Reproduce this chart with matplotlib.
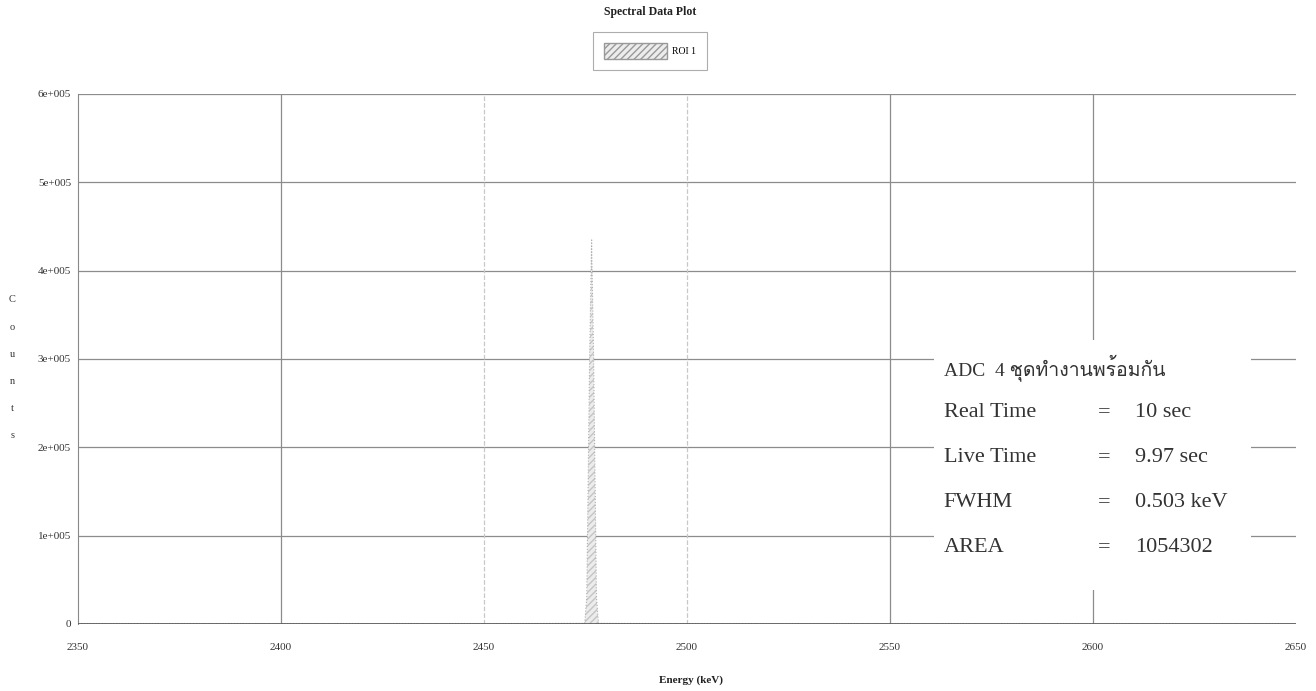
import matplotlib
matplotlib.use("Agg")
import matplotlib.pyplot as plt
from matplotlib import font_manager, ft2font
from matplotlib.patches import Patch, Rectangle

# spectrum (keV, counts)
energy = [2350, 2400, 2450, 2474.8, 2475.3, 2475.7, 2476.0, 2476.3, 2476.5,
          2476.7, 2477.0, 2477.3, 2477.7, 2478.2, 2500, 2550, 2600, 2650]
counts = [400, 350, 300, 800, 30000, 180000, 300000, 380000, 436000,
          380000, 300000, 180000, 30000, 800, 250, 200, 150, 100]

x_ticks = [2350, 2400, 2450, 2500, 2550, 2600, 2650]
y_ticks = [0, 100000, 200000, 300000, 400000, 500000, 600000]
y_labels = ["0", "1e+005", "2e+005", "3e+005", "4e+005", "5e+005", "6e+005"]

info_names = ["Real Time", "Live Time", "FWHM", "AREA"]
info_values = ["10 sec", "9.97 sec", "0.503 keV", "1054302"]
info_header = "ADC  4 ชุดทำงานพร้อมกัน"

# look for an installed family that can draw Thai
thai_fams = []
for f in font_manager.fontManager.ttflist:
    try:
        cmap = ft2font.FT2Font(f.fname).get_charmap()
    except Exception:
        continue
    if 0x0E0A in cmap and 0x0E33 in cmap and f.name not in thai_fams:
        thai_fams.append(f.name)

serif = ["Liberation Serif", "DejaVu Serif", "DejaVu Sans"]
plt.rcParams["font.family"] = serif + thai_fams

fig = plt.figure(figsize=(13.16, 6.91), dpi=100)
ax = fig.add_axes([0.0593, 0.097, 0.9255, 0.767])

ax.set_xlim(2350, 2650)
ax.set_ylim(0, 600000)

# grid
for yv in y_ticks[1:]:
    ax.axhline(yv, color="#8c8c8c", lw=0.9, zorder=1)
for xv in x_ticks[1:-1]:
    c = "#c8c8c8" if xv in (2450, 2500) else "#8c8c8c"
    ls = "--" if xv in (2450, 2500) else "-"
    ax.axvline(xv, color=c, lw=0.9, ls=ls, zorder=1)

# ROI peak
ax.fill_between(energy, counts, color="#ececec", hatch="/////",
                edgecolor="#c4c4c4", lw=0, zorder=2)
ax.plot(energy, counts, color="#b0b0b0", lw=0.8, ls=":", zorder=3)
ax.axhline(0, color="#555555", lw=1.2, zorder=4)

for s in ["top", "right"]:
    ax.spines[s].set_visible(False)
ax.spines["left"].set_color("#888888")
ax.spines["bottom"].set_visible(False)

ax.set_xticks(x_ticks)
ax.set_xticklabels([str(v) for v in x_ticks], fontsize=8, color="#333333")
ax.set_yticks(y_ticks)
ax.set_yticklabels(y_labels, fontsize=8, color="#333333")
ax.tick_params(axis="both", length=0, pad=5)
ax.tick_params(axis="x", pad=14)

# info box with white background
ax.add_patch(Rectangle((0.703, 0.065), 0.26, 0.47, transform=ax.transAxes,
                       facecolor="white", edgecolor="none", zorder=5))
ax.text(0.7106, 0.484, info_header, transform=ax.transAxes, fontsize=14,
        color="#333333", va="center", zorder=6)
row_y = [0.399, 0.314, 0.229, 0.144]
for yv, name, val in zip(row_y, info_names, info_values):
    ax.text(0.7106, yv, name, transform=ax.transAxes, fontsize=16,
            color="#333333", va="center", zorder=6)
    ax.text(0.837, yv, "=", transform=ax.transAxes, fontsize=16,
            color="#333333", va="center", zorder=6)
    ax.text(0.868, yv, val, transform=ax.transAxes, fontsize=16,
            color="#333333", va="center", zorder=6)

fig.text(0.494, 0.982, "Spectral Data Plot", ha="center", va="center",
         fontsize=8.5, fontweight="bold", color="#222222")
fig.text(0.525, 0.008, "Energy (keV)", ha="center", va="bottom",
         fontsize=8, fontweight="bold", color="#222222")
for i, ch in enumerate("Counts"):
    fig.text(0.0095, 1 - (300 + 27.2 * i) / 691, ch, ha="center", va="center",
             fontsize=7.5, color="#333333")

roi = Patch(facecolor="#ececec", hatch="/////", edgecolor="#999999", label="ROI 1")
leg = fig.legend(handles=[roi], loc="upper center", bbox_to_anchor=(0.494, 0.953),
                 fontsize=7, frameon=True, fancybox=False, handlelength=6.5,
                 handleheight=2.1, borderpad=1.1, borderaxespad=0, handletextpad=0.5)
leg.get_frame().set_edgecolor("#999999")
leg.get_frame().set_linewidth(0.8)

fig.savefig("out.png", dpi=100)
